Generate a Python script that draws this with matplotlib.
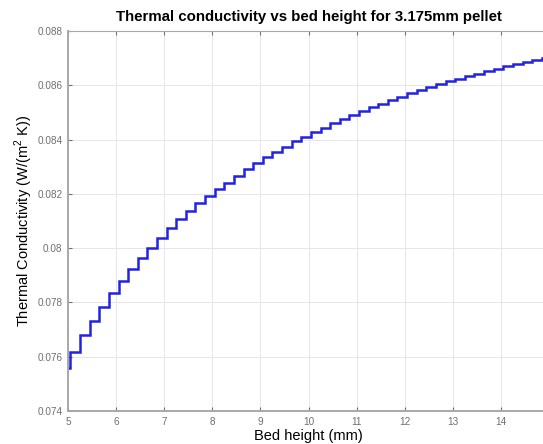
import numpy as np
import matplotlib
matplotlib.use("Agg")
import matplotlib.pyplot as plt
from matplotlib.ticker import FuncFormatter

# =============================================================================
# DATA
# =============================================================================

# step edges of the stair line (mm): a short first piece, then 0.2 mm steps
first_edge = 5.0
step_edges = np.round(np.arange(5.05, 15.06, 0.2), 2)

# conductivity level of each step (W/(m^2 K))
first_level = 0.07557
levels = [0.07618, 0.07680, 0.07733, 0.07784, 0.07834,
          0.07879, 0.07923, 0.07962, 0.07999, 0.08037,
          0.08075, 0.08106, 0.08138, 0.08165, 0.08192,
          0.08218, 0.08241, 0.08266, 0.08290, 0.08312,
          0.08334, 0.08355, 0.08374, 0.08393, 0.08411,
          0.08428, 0.08444, 0.08460, 0.08475, 0.08492,
          0.08506, 0.08519, 0.08532, 0.08544, 0.08556,
          0.08570, 0.08582, 0.08593, 0.08604, 0.08615,
          0.08625, 0.08634, 0.08643, 0.08652, 0.08661,
          0.08670, 0.08678, 0.08686, 0.08693, 0.08700]

x_ticks = [5, 6, 7, 8, 9, 10, 11, 12, 13, 14, 15]
x_ticklabels = ['5', '6', '7', '8', '9', '10', '11', '12', '13', '14', '']
y_ticks = [0.074, 0.076, 0.078, 0.080, 0.082, 0.084, 0.086, 0.088]

title = "Thermal conductivity vs bed height for 3.175mm pellet"
xlabel = "Bed height (mm)"
ylabel = "Thermal Conductivity (W/(m$^2$ K))"

# =============================================================================
# PLOT
# =============================================================================

plt.rcParams['font.family'] = ['Liberation Sans', 'DejaVu Sans']
plt.rcParams['mathtext.fontset'] = 'custom'
plt.rcParams['mathtext.rm'] = 'Liberation Sans'

fig = plt.figure(figsize=(5.43, 4.44), dpi=100)
ax = fig.add_axes([68 / 543, 33 / 444, 481 / 543, 380 / 444])

edges = np.concatenate([[first_edge], step_edges])
values = np.concatenate([[first_level], levels])
ax.stairs(values, edges, baseline=None, color='#2222e0', linewidth=1.8)

ax.set_xlim(5, 15)
ax.set_ylim(0.074, 0.088)
ax.set_xticks(x_ticks)
ax.set_xticklabels(x_ticklabels)
ax.set_yticks(y_ticks)
ax.yaxis.set_major_formatter(FuncFormatter(lambda v, p: '%g' % round(v, 4)))

ax.grid(True, color='#e6e6e6', linewidth=0.7)
ax.set_axisbelow(True)
ax.tick_params(direction='in', length=3, width=0.8, colors='#707070',
               labelsize=7.2, top=True, right=True, pad=4)
for name, sp in ax.spines.items():
    sp.set_color('#a8a8a8')
    sp.set_linewidth(1.4 if name in ('left', 'bottom') else 0.8)

ax.set_title(title, fontsize=10.8, fontweight='bold', pad=7)
ax.set_xlabel(xlabel, fontsize=10.5, labelpad=1.5)
ax.set_ylabel(ylabel, fontsize=10.5, labelpad=2)

plt.savefig("out.png", dpi=100)
